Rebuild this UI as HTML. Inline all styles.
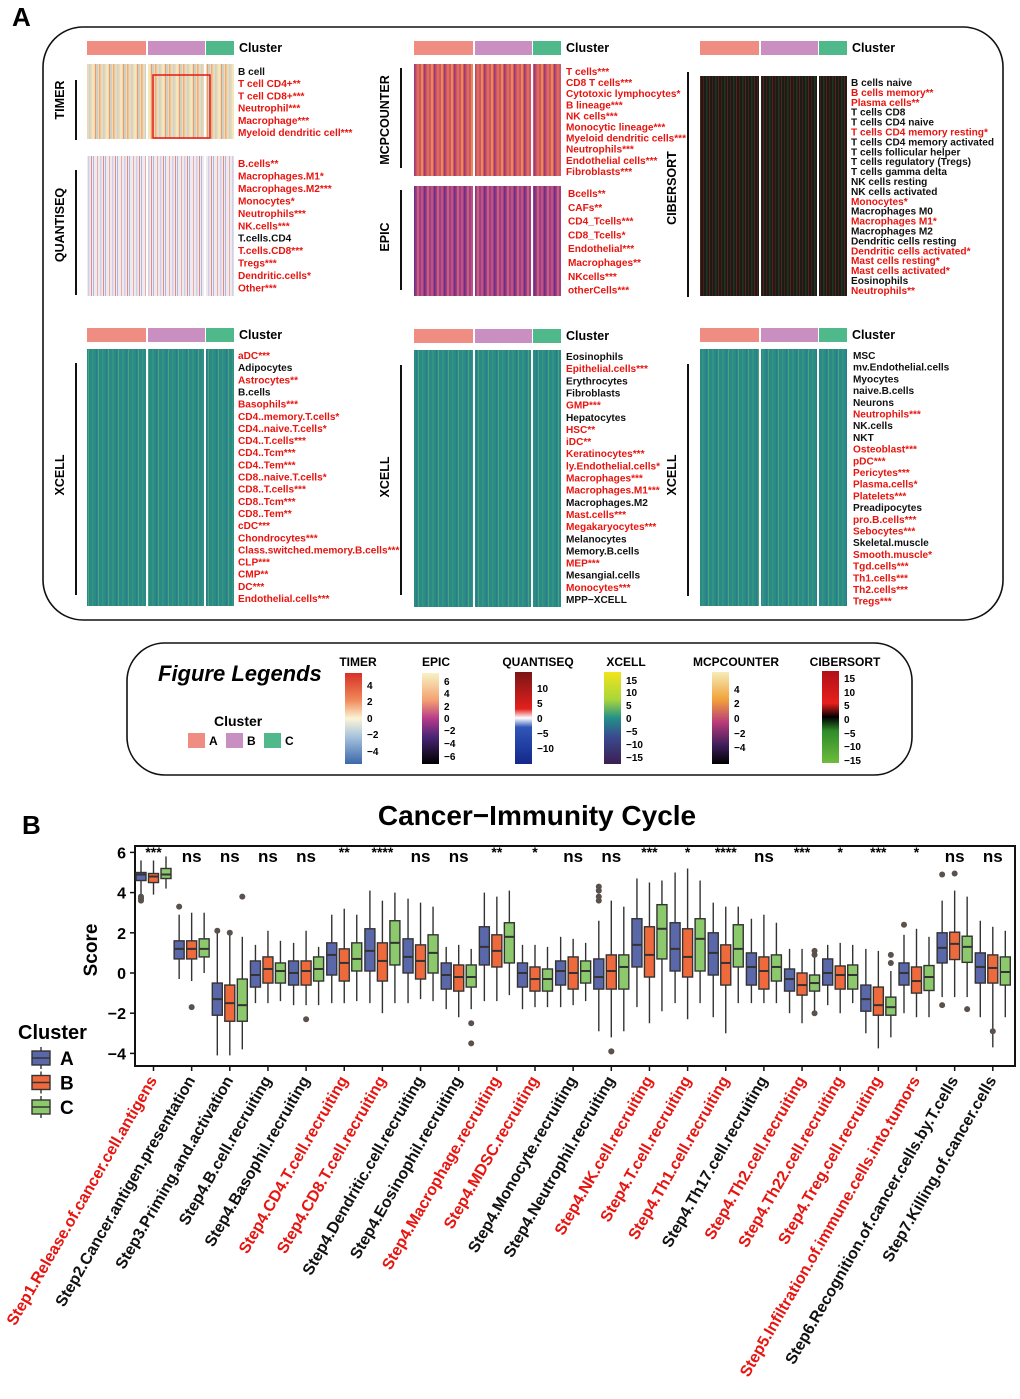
<!DOCTYPE html>
<html><head><meta charset="utf-8"><style>
body{margin:0;background:#fff;}
svg{display:block;font-family:"Liberation Sans",Arial,sans-serif;}
.lb{font-size:10.1px;font-weight:bold;}
</style></head><body>
<svg id="fig" width="1020" height="1399" viewBox="0 0 1020 1399" xmlns="http://www.w3.org/2000/svg">
<defs>
<pattern id="pTimer" width="14" height="12.4" patternUnits="userSpaceOnUse">
<rect width="14" height="12.4" fill="#eed9b0"/><rect x="1" width="1.5" height="12.4" fill="#f0ad7e"/><rect x="5" width="1.5" height="12.4" fill="#c4d4dc"/><rect x="8" width="2" height="12.4" fill="#f4e6bb"/><rect x="11" width="1" height="12.4" fill="#e99a70"/><rect x="12.5" width="1" height="12.4" fill="#b0c8d8"/></pattern>
<pattern id="pQuant" width="12" height="12.7" patternUnits="userSpaceOnUse">
<rect width="12" height="12.7" fill="#efe9f0"/><rect x="1" width="1" height="12.7" fill="#eaaba4"/><rect x="4" width="1.5" height="12.7" fill="#cfd0e8"/><rect x="7" width="1" height="12.7" fill="#e58b80"/><rect x="9" width="1" height="12.7" fill="#b5b6db"/></pattern>
<pattern id="pMcp" width="10" height="11.2" patternUnits="userSpaceOnUse">
<rect width="10" height="11.2" fill="#cf5768"/><rect x="1" width="2" height="11.2" fill="#e98a4e"/><rect x="4" width="1.5" height="11.2" fill="#9a3a78"/><rect x="7" width="2" height="11.2" fill="#dc6d5a"/></pattern>
<pattern id="pEpic" width="10" height="13.6" patternUnits="userSpaceOnUse">
<rect width="10" height="13.6" fill="#9e3f88"/><rect x="1" width="2" height="13.6" fill="#bf5282"/><rect x="4" width="1.5" height="13.6" fill="#6b3082"/><rect x="7" width="2" height="13.6" fill="#c9607a"/></pattern>
<pattern id="pCib" width="9" height="10" patternUnits="userSpaceOnUse">
<rect width="9" height="10" fill="#1c1c16"/><rect x="1" width="1" height="10" fill="#4a1c18"/><rect x="4" width="1.5" height="10" fill="#1f3522"/><rect x="7" width="1" height="10" fill="#5e1f1a"/></pattern>
<pattern id="pX" width="10" height="11.7" patternUnits="userSpaceOnUse">
<rect width="10" height="11.7" fill="#2a8a87"/><rect x="2" width="1.5" height="11.7" fill="#35967f"/><rect x="6" width="1" height="11.7" fill="#2e7a8a"/><rect x="8" width="1" height="11.7" fill="#4aa676"/></pattern>
<linearGradient id="gTimer" x1="0" y1="0" x2="0" y2="1"><stop offset="0" stop-color="#d73027"/><stop offset="0.3" stop-color="#f08a5a"/><stop offset="0.5" stop-color="#fbf5d6"/><stop offset="0.7" stop-color="#a7c3dd"/><stop offset="1" stop-color="#3c68aa"/></linearGradient>
<linearGradient id="gEpic" x1="0" y1="0" x2="0" y2="1"><stop offset="0" stop-color="#f7f2c4"/><stop offset="0.3" stop-color="#f4a070"/><stop offset="0.5" stop-color="#b73a8a"/><stop offset="0.7" stop-color="#4a2576"/><stop offset="1" stop-color="#000"/></linearGradient>
<linearGradient id="gQuant" x1="0" y1="0" x2="0" y2="1"><stop offset="0" stop-color="#7b1515"/><stop offset="0.4" stop-color="#e3201d"/><stop offset="0.5" stop-color="#ffffff"/><stop offset="0.6" stop-color="#3056b8"/><stop offset="1" stop-color="#13288a"/></linearGradient>
<linearGradient id="gX" x1="0" y1="0" x2="0" y2="1"><stop offset="0" stop-color="#f1e41c"/><stop offset="0.3" stop-color="#a8d63a"/><stop offset="0.5" stop-color="#22908a"/><stop offset="0.7" stop-color="#3a4b8f"/><stop offset="1" stop-color="#3b1f52"/></linearGradient>
<linearGradient id="gMcp" x1="0" y1="0" x2="0" y2="1"><stop offset="0" stop-color="#f4ecb8"/><stop offset="0.3" stop-color="#f2a23a"/><stop offset="0.55" stop-color="#b83a7a"/><stop offset="0.8" stop-color="#3d1e5a"/><stop offset="1" stop-color="#000"/></linearGradient>
<linearGradient id="gCib" x1="0" y1="0" x2="0" y2="1"><stop offset="0" stop-color="#b01018"/><stop offset="0.35" stop-color="#e8201e"/><stop offset="0.5" stop-color="#000"/><stop offset="0.65" stop-color="#2f8a2a"/><stop offset="1" stop-color="#6dbd3a"/></linearGradient>
</defs>
<g id="panelA"></g>
<g id="legendG"></g>
<g id="panelB"></g>
</svg>
<script>
// ---------------- Panel B data ----------------
const categories=["Step1.Release.of.cancer.cell.antigens","Step2.Cancer.antigen.presentation","Step3.Priming.and.activation","Step4.B.cell.recruiting","Step4.Basophil.recruiting","Step4.CD4.T.cell.recruiting","Step4.CD8.T.cell.recruiting","Step4.Dendritic.cell.recruiting","Step4.Eosinophil.recruiting","Step4.Macrophage.recruiting","Step4.MDSC.recruiting","Step4.Monocyte.recruiting","Step4.Neutrophil.recruiting","Step4.NK.cell.recruiting","Step4.T.cell.recruiting","Step4.Th1.cell.recruiting","Step4.Th17.cell.recruiting","Step4.Th2.cell.recruiting","Step4.Th22.cell.recruiting","Step4.Treg.cell.recruiting","Step5.Infiltration.of.immune.cells.into.tumors","Step6.Recognition.of.cancer.cells.by.T.cells","Step7.Killing.of.cancer.cells"];
const significance=["***","ns","ns","ns","ns","**","****","ns","ns","**","*","ns","ns","***","*","****","ns","***","*","***","*","ns","ns"];
const highlighted=[1,0,0,0,0,1,1,0,0,1,1,0,0,1,1,1,0,1,1,1,1,0,0];
// [low whisker, q1, median, q3, high whisker]
const clusterA=[[3.9,4.6,4.9,5.0,5.6],[-0.3,0.7,1.2,1.6,2.9],[-4.1,-2.1,-1.3,-0.5,2.0],[-1.5,-0.7,-0.1,0.6,1.4],[-1.6,-0.6,0,0.6,1.5],[-1.5,-0.1,0.9,1.5,2.9],[-1.5,0.1,1.1,2.2,4.1],[-1.5,0,0.8,1.7,3.7],[-1.8,-0.8,-0.1,0.5,1.3],[-1.4,0.4,1.3,2.3,4.0],[-1.8,-0.7,0,0.5,1.4],[-1.7,-0.6,0.1,0.6,1.8],[-2.9,-0.8,-0.2,0.7,2.6],[-1.7,0.3,1.4,2.7,4.7],[-1.5,0.1,1.2,2.5,5.0],[-2.2,-0.1,1.0,2.0,3.5],[-1.5,-0.6,0.3,1.0,2.7],[-2.0,-0.9,-0.3,0.2,1.2],[-1.6,-0.6,0.0,0.7,1.4],[-3.0,-1.9,-1.3,-0.6,1.2],[-2.0,-0.6,0.0,0.5,1.9],[-1.2,0.5,1.25,2.0,3.6],[-2.2,-0.5,0.3,1.0,2.6]];
const clusterB=[[3.9,4.5,4.8,4.95,5.6],[-0.4,0.7,1.2,1.6,3.0],[-4.1,-2.4,-1.5,-0.6,2.0],[-1.5,-0.5,0.2,0.8,2.1],[-1.6,-0.6,0.1,0.6,2.1],[-1.5,-0.4,0.5,1.2,3.2],[-2.0,-0.4,0.6,1.5,3.6],[-1.3,-0.3,0.6,1.4,3.5],[-2.2,-0.9,-0.2,0.4,1.4],[-1.4,0.3,1.1,1.9,3.8],[-1.7,-0.9,-0.3,0.3,1.4],[-1.6,-0.8,0,0.8,1.7],[-3.2,-0.8,0.1,0.9,3.6],[-2.5,-0.2,0.9,2.3,4.5],[-2.3,-0.2,0.8,2.2,5.2],[-3.0,-0.6,0.5,1.4,3.3],[-1.5,-0.8,0.1,0.8,2.9],[-2.5,-1.1,-0.6,0,1.2],[-2.0,-0.8,-0.1,0.35,1.5],[-3.75,-2.1,-1.6,-0.7,1.1],[-2.2,-1.0,-0.4,0.3,2.2],[-1.2,0.67,1.45,2.03,4.1],[-3.7,-0.5,0.25,0.9,2.3]];
const clusterC=[[4.2,4.7,4.9,5.2,5.8],[0,0.8,1.2,1.7,3.0],[-3.8,-2.4,-1.6,-0.3,1.8],[-1.4,-0.5,0.1,0.5,1.6],[-1.6,-0.4,0.2,0.8,1.3],[-1.4,0.1,0.7,1.5,2.9],[-1.5,0.4,1.5,2.6,4.0],[-1.4,0,1.0,1.9,3.3],[-1.8,-0.7,-0.2,0.4,1.2],[-1.1,0.5,1.8,2.5,4.1],[-1.7,-0.9,-0.3,0.2,1.3],[-1.4,-0.5,0.1,0.6,1.5],[-2.9,-0.8,0.3,0.9,3.3],[-1.9,0.7,2.2,3.4,4.6],[-1.5,0.1,1.7,2.7,4.6],[-1.5,0.3,1.2,2.4,3.3],[-1.5,-0.4,0.3,0.9,2.5],[-1.9,-0.9,-0.5,-0.1,1.1],[-1.5,-0.8,-0.1,0.4,1.4],[-3.2,-2.1,-1.7,-1.2,0.1],[-2.2,-0.87,-0.2,0.37,1.8],[-1.2,0.53,1.3,1.83,3.8],[-2.2,-0.6,0.05,0.8,2.1]];
// outliers: [category index, cluster index (0=A,1=B,2=C), value]
const outlierIdx=[0,0,0,2,1,1,2,2,4,8,8,12,12,12,12,12,12,17,17,17,19,19,20,21,21,21,21,22];
const outlierCl=[0,0,0,2,0,1,0,1,1,2,2,0,0,0,0,1,1,2,2,2,2,2,0,0,0,1,2,1];
const outlierVal=[3.8,3.7,3.6,3.8,3.3,-1.7,2.1,2.0,-2.3,-2.5,-3.5,4.3,4.1,3.8,3.6,-3.9,-3.9,1.1,0.9,-2.0,0.9,0.5,2.4,4.9,-1.6,4.95,-1.8,-2.9];
const yTicks=[6,4,2,0,-2,-4];

const NS="http://www.w3.org/2000/svg";
function mk(tag,attrs,parent,text){const e=document.createElementNS(NS,tag);for(const k in attrs)e.setAttribute(k,attrs[k]);if(text!==undefined)e.textContent=text;parent.appendChild(e);return e;}

// ---------------- Panel A ----------------
const A=document.getElementById('panelA');
const aL=mk('text',{x:12,y:26,'font-size':26,'font-weight':'bold'},A,'A');


const box=mk('rect',{x:43,y:27,width:960,height:593,rx:40,fill:'none',stroke:'#111','stroke-width':1.6},A);



const clusterCols=['#ef8d82','#c98fc0','#4fb98b'];
function clusterBar(x,y,name){
  const g=mk('g',{},A);
  
  
  const ws=[59,57,28],xs=[x,x+61,x+119];
  for(let i=0;i<3;i++){mk('rect',{x:xs[i],y:y,width:ws[i],height:14,fill:clusterCols[i]},g);}
  mk('text',{x:x+152,y:y+11,'font-size':12.5,'font-weight':'bold'},g,'Cluster');
}
function heat(x,y,h,pat,name){
  const g=mk('g',{},A);
  
  
  mk('rect',{x:x,y:y,width:147,height:h,fill:'url(#'+pat+')'},g);
  mk('rect',{x:x+59,y:y,width:2,height:h,fill:'#fff'},g);
  mk('rect',{x:x+117,y:y,width:2,height:h,fill:'#fff'},g);
}
function labels(x,y0,step,list,name){
  const g=mk('g',{},A);
  
  
  list.forEach((s,i)=>{
    const red=s.indexOf('*')>=0;
    const t=mk('text',{x:x,y:y0+i*step,class:'lb',fill:red?'#e8140f':'#111'},g,s);
    
    
  });
}
function side(x,y,len,lx,ly,txt,name){
  const g=mk('g',{},A);
  
  
  mk('line',{x1:x,y1:y,x2:x,y2:y+len,stroke:'#111','stroke-width':2},g);
  mk('text',{x:lx,y:ly,'font-size':12.5,'font-weight':'bold','text-anchor':'middle',transform:'rotate(-90 '+lx+' '+ly+')'},g,txt);
}
clusterBar(87,41,'cluster-bar-1');clusterBar(414,41,'cluster-bar-2');clusterBar(700,41,'cluster-bar-3');
clusterBar(87,328,'cluster-bar-4');clusterBar(414,329,'cluster-bar-5');clusterBar(700,328,'cluster-bar-6');
heat(87,64,75,'pTimer','timer-heatmap');
heat(87,156,140,'pQuant','quantiseq-heatmap');
heat(414,64,112,'pMcp','mcpcounter-heatmap');
heat(414,186,110,'pEpic','epic-heatmap');
heat(700,76,220,'pCib','cibersort-heatmap');
heat(87,349,257,'pX','xcell-heatmap-1');
heat(414,350,257,'pX','xcell-heatmap-2');
heat(700,349,257,'pX','xcell-heatmap-3');
const sel=mk('rect',{x:153,y:75,width:57,height:63,fill:'none',stroke:'#e8231a','stroke-width':1.6},A);



labels(238,75,12.2,["B cell","T cell CD4+**","T cell CD8+***","Neutrophil***","Macrophage***","Myeloid dendritic cell***"],'timer-labels');
labels(238,167,12.45,["B.cells**","Macrophages.M1*","Macrophages.M2***","Monocytes*","Neutrophils***","NK.cells***","T.cells.CD4","T.cells.CD8***","Tregs***","Dendritic.cells*","Other***"],'quantiseq-labels');
labels(566,75,11.1,["T cells***","CD8 T cells***","Cytotoxic lymphocytes*","B lineage***","NK cells***","Monocytic lineage***","Myeloid dendritic cells***","Neutrophils***","Endothelial cells***","Fibroblasts***"],'mcpcounter-labels');
labels(568,197,13.8,["Bcells**","CAFs**","CD4_Tcells***","CD8_Tcells*","Endothelial***","Macrophages**","NKcells***","otherCells***"],'epic-labels');
labels(851,86,9.9,["B cells naive","B cells memory**","Plasma cells**","T cells CD8","T cells CD4 naive","T cells CD4 memory resting*","T cells CD4 memory activated","T cells follicular helper","T cells regulatory (Tregs)","T cells gamma delta","NK cells resting","NK cells activated","Monocytes*","Macrophages M0","Macrophages M1*","Macrophages M2","Dendritic cells resting","Dendritic cells activated*","Mast cells resting*","Mast cells activated*","Eosinophils","Neutrophils**"],'cibersort-labels');
labels(238,359,12.15,["aDC***","Adipocytes","Astrocytes**","B.cells","Basophils***","CD4..memory.T.cells*","CD4..naive.T.cells*","CD4..T.cells***","CD4..Tcm***","CD4..Tem***","CD8..naive.T.cells*","CD8..T.cells***","CD8..Tcm***","CD8..Tem**","cDC***","Chondrocytes***","Class.switched.memory.B.cells***","CLP***","CMP**","DC***","Endothelial.cells***"],'xcell-labels-1');
labels(566,360,12.15,["Eosinophils","Epithelial.cells***","Erythrocytes","Fibroblasts","GMP***","Hepatocytes","HSC**","iDC**","Keratinocytes***","ly.Endothelial.cells*","Macrophages***","Macrophages.M1***","Macrophages.M2","Mast.cells***","Megakaryocytes***","Melanocytes","Memory.B.cells","MEP***","Mesangial.cells","Monocytes***","MPP−XCELL"],'xcell-labels-2');
labels(853,359,11.7,["MSC","mv.Endothelial.cells","Myocytes","naive.B.cells","Neurons","Neutrophils***","NK.cells","NKT","Osteoblast***","pDC***","Pericytes***","Plasma.cells*","Platelets***","Preadipocytes","pro.B.cells***","Sebocytes***","Skeletal.muscle","Smooth.muscle*","Tgd.cells***","Th1.cells***","Th2.cells***","Tregs***"],'xcell-labels-3');

side(76,80,60,64,100,'TIMER','timer-side-label');
side(76,170,125,64,225,'QUANTISEQ','quantiseq-side-label');
side(401,68,100,389,120,'MCPCOUNTER','mcpcounter-side-label');
side(401,190,100,389,237,'EPIC','epic-side-label');
side(688,72,225,676,188,'CIBERSORT','cibersort-side-label');
side(76,363,232,64,475,'XCELL','xcell-side-label-1');
side(401,365,230,389,477,'XCELL','xcell-side-label-2');
side(688,364,232,676,475,'XCELL','xcell-side-label-3');

// ---------------- Legend ----------------
const L=document.getElementById('legendG');
mk('rect',{x:127,y:643,width:785,height:132,rx:38,fill:'none',stroke:'#111','stroke-width':1.6},L);
const fl=mk('text',{x:158,y:681,'font-size':22,'font-weight':'bold','font-style':'italic'},L,'Figure Legends');


mk('text',{x:214,y:726,'font-size':14,'font-weight':'bold'},L,'Cluster');
['A','B','C'].forEach((c,i)=>{
  const g=mk('g',{},L);
  
  
  mk('rect',{x:188+i*38,y:733,width:17,height:15,fill:clusterCols[i]},g);
  mk('text',{x:209+i*38,y:745,'font-size':12,'font-weight':'bold'},g,c);
});
const cbars=[
 {n:'TIMER',x:345,tx:358,grad:'gTimer',y0:673,y1:764,ticks:['4','2','0','−2','−4'],ty:[685,701,718,734,751]},
 {n:'EPIC',x:422,tx:436,grad:'gEpic',y0:673,y1:764,ticks:['6','4','2','0','−2','−4','−6'],ty:[681,693,706,718,730,743,756]},
 {n:'QUANTISEQ',x:515,tx:538,grad:'gQuant',y0:672,y1:764,ticks:['10','5','0','−5','−10'],ty:[688,703,718,733,748]},
 {n:'XCELL',x:604,tx:626,grad:'gX',y0:672,y1:764,ticks:['15','10','5','0','−5','−10','−15'],ty:[680,692,705,718,731,744,757]},
 {n:'MCPCOUNTER',x:712,tx:736,grad:'gMcp',y0:672,y1:764,ticks:['4','2','0','−2','−4'],ty:[689,703,718,733,747]},
 {n:'CIBERSORT',x:822,tx:845,grad:'gCib',y0:671,y1:763,ticks:['15','10','5','0','−5','−10','−15'],ty:[678,692,705,719,733,746,760]}];
cbars.forEach(b=>{
  const g=mk('g',{},L);
  
  
  mk('text',{x:b.tx,y:666,'font-size':12,'font-weight':'bold','text-anchor':'middle'},g,b.n);
  mk('rect',{x:b.x,y:b.y0,width:17,height:b.y1-b.y0,fill:'url(#'+b.grad+')'},g);
  b.ticks.forEach((t,i)=>mk('text',{x:b.x+22,y:b.ty[i]+4,'font-size':10,'font-weight':'bold'},g,t));
});

// ---------------- Panel B ----------------
const B=document.getElementById('panelB');
const px0=135,px1=1015,py0=846,py1=1066;
const x0=153.5,dx=38.15;
function xScale(i){return x0+i*dx;}
function yScale(v){return 973-v*20.1;}
const bL=mk('text',{x:22,y:834,'font-size':26,'font-weight':'bold'},B,'B');


const ttl=mk('text',{x:537,y:825,'font-size':28,'font-weight':'bold','text-anchor':'middle'},B,'Cancer−Immunity Cycle');


const frame=mk('rect',{x:px0,y:py0,width:px1-px0,height:py1-py0,fill:'#fff',stroke:'#111','stroke-width':2},B);


const yl=mk('text',{x:97,y:950,'font-size':19,'font-weight':'bold','text-anchor':'middle',transform:'rotate(-90 97 950)'},B,'Score');


yTicks.forEach(v=>{
  const t=mk('text',{x:126,y:yScale(v)+6,'font-size':16,'font-weight':'bold','text-anchor':'end'},B,v<0?'−'+(-v):String(v));
  
  
  mk('line',{x1:130,x2:px0,y1:yScale(v),y2:yScale(v),stroke:'#111','stroke-width':1.5},B);
});
const boxCols=['#5a67a8','#ee6a3c','#8cc86c'];
const series=[clusterA,clusterB,clusterC];
categories.forEach((c,i)=>{
  const cx=xScale(i);
  mk('line',{x1:cx,x2:cx,y1:py1,y2:py1+5,stroke:'#111','stroke-width':1.5},B);
  const s=mk('text',{x:cx,y:significance[i]==='ns'?862:857,'font-size':significance[i]==='ns'?17:14,'font-weight':'bold','text-anchor':'middle'},B,significance[i]);
  
  
  const lab=mk('text',{x:cx+4,y:py1+14,'font-size':16,'font-weight':'bold','text-anchor':'end',fill:highlighted[i]?'#e8140f':'#111',transform:'rotate(-60 '+(cx+4)+' '+(py1+14)+')'},B,c);
  
  
  for(let k=0;k<3;k++){
    const d=series[k][i];
    const bx=cx+(k-1)*12.5;
    const g=mk('g',{},B);
    
    
    mk('line',{x1:bx,x2:bx,y1:yScale(d[0]),y2:yScale(d[4]),stroke:'#333','stroke-width':1.4},g);
    mk('rect',{x:bx-5,y:yScale(d[3]),width:10,height:yScale(d[1])-yScale(d[3]),fill:boxCols[k],stroke:'#333','stroke-width':1.4},g);
    mk('line',{x1:bx-5,x2:bx+5,y1:yScale(d[2]),y2:yScale(d[2]),stroke:'#333','stroke-width':2},g);
  }
});
outlierVal.forEach((v,j)=>{
  const cx=xScale(outlierIdx[j])+(outlierCl[j]-1)*12.5;
  const o=mk('circle',{cx:cx,cy:yScale(v),r:3,fill:'#5a504c'},B);
  
  
});
// legend
const lg=mk('g',{},B);


mk('text',{x:18,y:1039,'font-size':20,'font-weight':'bold'},lg,'Cluster');
['A','B','C'].forEach((c,i)=>{
  const y=1058+i*24.5;
  const e=mk('g',{},lg);
  
  
  mk('line',{x1:41,x2:41,y1:y-11,y2:y+11,stroke:'#333','stroke-width':1.4},e);
  mk('rect',{x:32,y:y-7,width:18,height:14,fill:boxCols[i],stroke:'#333','stroke-width':1.4},e);
  mk('line',{x1:32,x2:50,y1:y,y2:y,stroke:'#333','stroke-width':1.6},e);
  mk('text',{x:60,y:y+7,'font-size':19,'font-weight':'bold'},e,c);
});
</script>
</body></html>
